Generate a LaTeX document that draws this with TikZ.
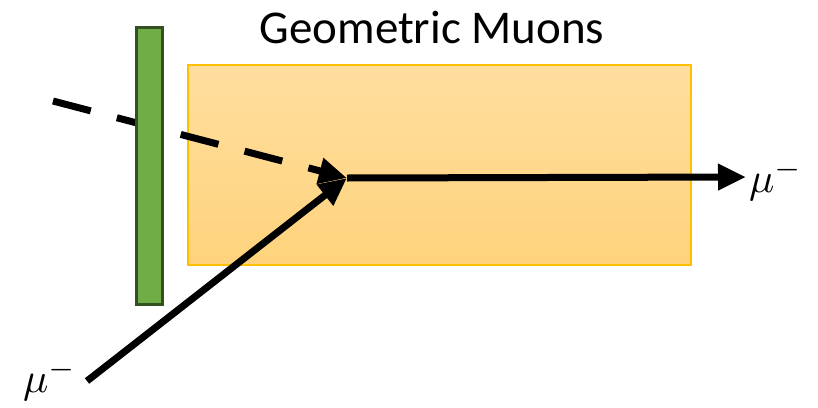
\documentclass[tikz,border=0pt]{standalone}
\usepackage{fontspec}
\setmainfont{Carlito}
\usetikzlibrary{arrows.meta}

\begin{document}
\begin{tikzpicture}[x=1pt, y=-1pt,
    target/.style={rectangle, draw=tgtBorder, line width=1.2pt,
      top color=tgtTop, bottom color=tgtBot, minimum width=503pt, minimum height=200pt},
    detector/.style={rectangle, draw=detBorder, line width=3pt, fill=detFill,
      minimum width=26pt, minimum height=277pt},
    track/.style={-{Triangle[length=28pt,width=25pt]}, line width=7pt, black},
    lab/.style={scale=4.2, transform shape}
  ]
    \definecolor{tgtTop}{RGB}{255,222,158}
    \definecolor{tgtBot}{RGB}{255,211,125}
    \definecolor{tgtBorder}{RGB}{255,192,0}
    \definecolor{detFill}{RGB}{112,173,71}
    \definecolor{detBorder}{RGB}{50,80,32}
    \useasboundingbox (0,0) rectangle (818,407);

    \node[target] (block) at (439.5,165) {};
    \node[font=\fontsize{47}{56}\selectfont] (title) at (432,28) {Geometric Muons};

    \coordinate (vertex) at (347,178);
    \coordinate (beamin) at (53,101);
    \coordinate (muin) at (87,381);
    \coordinate (muout) at (746,177);

    % incoming beam passes behind the counter
    \draw[track, dash pattern=on 39pt off 27pt] (beamin) -- (vertex);
    \node[detector] (veto) at (149.5,166) {};

    \draw[track] (muin) -- (vertex);
    \draw[track] (vertex) -- (muout);

    \node[lab] (outlab) at (776,180) {$\mu^-$};
    \node[lab] (inlab) at (50,380) {$\mu^-$};
\end{tikzpicture}
\end{document}
